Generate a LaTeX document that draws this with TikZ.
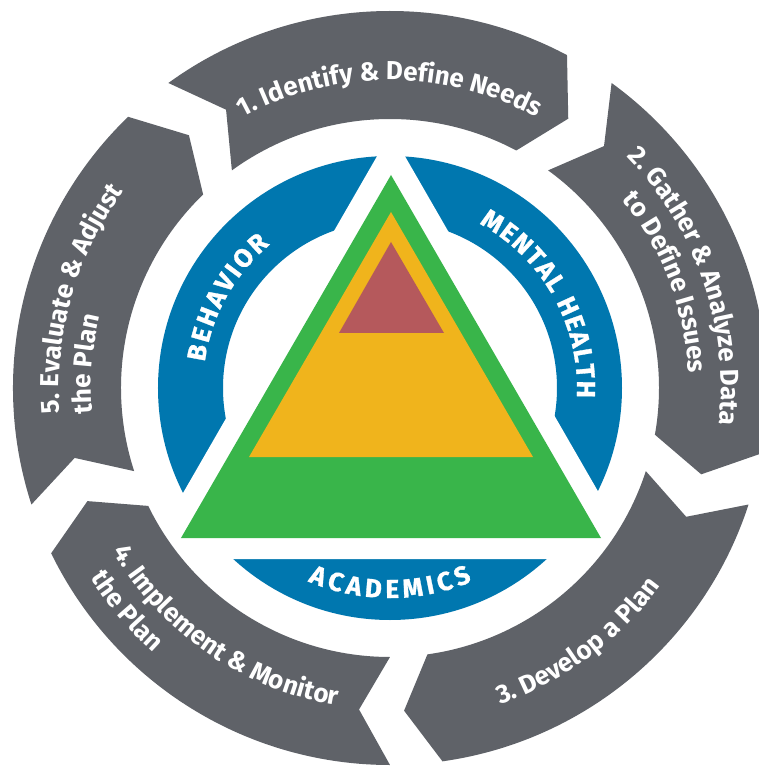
\documentclass[tikz,border=0pt]{standalone}
\usepackage{fontspec}
\setmainfont{Fira Sans}
\newfontfamily\areaface{Fira Sans}[BoldFeatures={FakeBold=1.2}]
\usetikzlibrary{decorations.text}
\definecolor{cycleGray}{RGB}{95,98,104}
\definecolor{ringBlue}{RGB}{0,119,175}
\definecolor{tierGreen}{RGB}{57,181,74}
\definecolor{tierGold}{RGB}{240,180,28}
\definecolor{tierRed}{RGB}{181,89,92}
\newcommand{\cyclefont}{\fontsize{26}{30}\selectfont\bfseries}
\newcommand{\areafont}{\areaface\fontsize{26}{30}\selectfont\bfseries}
\tikzset{
    cycleseg/.style={fill=cycleGray},
    curvelabel/.style={decorate, decoration={text along path, text color=white, text align=center, text={#1}}},
    arealabel/.style={decorate, decoration={text along path, text color=white, text align=fit to path, text={#1}}}
}

\begin{document}
\begin{tikzpicture}[x=1pt, y=1pt]

    \useasboundingbox (-390,-383) rectangle (369,388);
    \clip (-390,-383) rectangle (369,388);
    \fill[white] (-390,-383) rectangle (369,388);

    % Blue ring, cut by the white band round the triangle
    \fill[ringBlue, even odd rule] (0,0) circle[radius=232] (0,0) circle[radius=167];
    \fill[white] (1,256) -- (-245,-171) -- (247,-171) -- cycle;

    % Outer cycle of five arrows
    \foreach \i in {0,...,4}{
        \pgfmathsetmacro{\pt}{126-72*\i}
        \pgfmathsetmacro{\ph}{62-72*\i}
        \fill[cycleseg] (\pt:377) arc[start angle=\pt, end angle=\ph, radius=377]
            -- (\ph-5.5:323) -- (\ph:269)
            arc[start angle=\ph, end angle=\pt, radius=269]
            -- (\pt-5.5:323) -- cycle;
    }

    % Tiers
    \fill[tierGreen] (1,213) -- (-209,-150) -- (211,-150) -- cycle;
    \fill[tierGold] (1,176) -- (-141,-69) -- (143,-69) -- cycle;
    \fill[tierRed] (1,146) -- (-51,55) -- (54,55) -- cycle;

    % Step labels
    \path[curvelabel={|\cyclefont|1. Identify {\&} Define Needs}] (140:308) arc[start angle=140, end angle=40, radius=308];
    \path[curvelabel={|\cyclefont|2. Gather {\&} Analyze Data}] (59:331) arc[start angle=59, end angle=-21, radius=331];
    \path[curvelabel={|\cyclefont|to Define Issues}] (61:299) arc[start angle=61, end angle=-19, radius=299];
    \path[curvelabel={|\cyclefont|3. Develop a Plan}] (-93.5:335) arc[start angle=-93.5, end angle=-13.5, radius=335];
    \path[curvelabel={|\cyclefont|4. Implement {\&} Monitor}] (-169.5:322) arc[start angle=-169.5, end angle=-79.5, radius=322];
    \path[curvelabel={|\cyclefont|the Plan}] (-179.75:355) arc[start angle=-179.75, end angle=-99.75, radius=355];
    \path[curvelabel={|\cyclefont|5. Evaluate {\&} Adjust}] (209:331) arc[start angle=209, end angle=119, radius=331];
    \path[curvelabel={|\cyclefont|the Plan}] (215.5:299) arc[start angle=215.5, end angle=135.5, radius=299];

    % Area labels
    \path[arealabel={|\areafont|BEHAVIOR}] (172:187) arc[start angle=172, end angle=130, radius=187];
    \path[arealabel={|\areafont|MENTAL HEALTH}] (61.5:187) arc[start angle=61.5, end angle=-3, radius=187];
    \path[arealabel={|\areafont|ACADEMICS}] (-113:210) arc[start angle=-113, end angle=-67, radius=210];

\end{tikzpicture}
\end{document}
